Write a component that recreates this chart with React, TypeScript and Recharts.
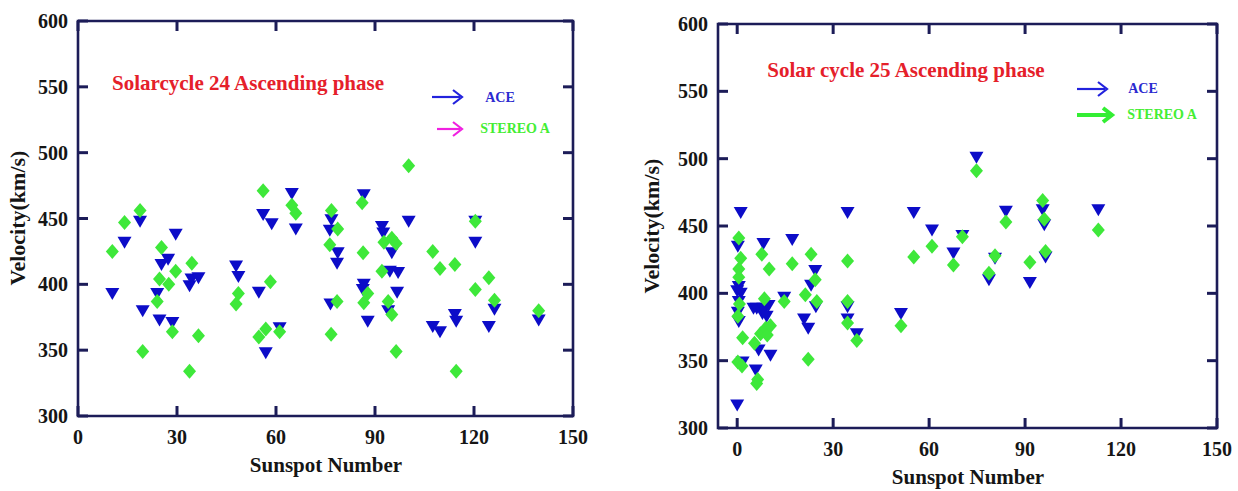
import React from "react";
import { ScatterChart, Scatter, XAxis, YAxis, ReferenceArea } from "recharts";

const sunspotTicks = [0, 30, 60, 90, 120, 150];
const velocityTicks = [300, 350, 400, 450, 500, 550, 600];

// [sunspot number, velocity km/s]
const c24Ace = [
  [10.4, 393], [14.1, 432], [18.8, 448], [19.6, 380], [24, 393], [25.3, 415],
  [27.3, 419], [24.7, 373], [28.6, 371], [29.6, 438], [33.8, 399], [34.4, 404],
  [36.5, 405], [47.9, 414], [48.6, 406], [54.8, 394], [56.1, 453], [58.7, 446],
  [56.9, 348], [61.1, 367], [64.8, 469], [66, 442], [76.8, 449], [76.3, 441],
  [78.7, 424], [78.5, 416], [76.5, 385], [86.6, 468], [86.3, 396], [86.6, 400],
  [87.8, 372], [100.2, 448], [92.1, 444], [92.5, 439], [95.1, 424], [94.5, 410],
  [97, 409], [96.7, 394], [94, 380], [107.5, 368], [109.7, 364], [114.2, 377],
  [114.6, 372], [120.4, 432], [120.4, 448], [124.5, 368], [126.2, 381], [139.6, 373],
];

const c24Stereo = [
  [10.4, 425], [14.1, 447], [18.8, 456], [19.6, 349], [25.3, 428], [24.7, 404],
  [24, 387], [27.5, 400], [29.6, 410], [28.6, 364], [34.5, 416], [33.8, 334],
  [36.5, 361], [47.9, 385], [48.6, 393], [56.1, 471], [58.3, 402], [54.8, 360],
  [56.9, 366], [61.1, 364], [64.8, 460], [66, 454], [76.8, 456], [76.3, 430],
  [78.7, 442], [78.5, 387], [76.7, 362], [86.1, 462], [86.4, 424], [86.6, 386],
  [87.8, 393], [100.2, 490], [92.1, 410], [92.7, 432], [95.1, 435], [96.4, 431],
  [94, 387], [95.1, 377], [96.4, 349], [107.5, 425], [109.7, 412], [114.2, 415],
  [114.6, 334], [120.4, 448], [120.4, 396], [124.5, 405], [126.2, 388], [139.6, 380],
];

const c25Ace = [
  [1.1, 460], [0.2, 435], [0, 402], [0.5, 405], [1.1, 400], [0.5, 394],
  [0.2, 386], [0.5, 379], [0, 317], [1.7, 349], [5.1, 389], [6.1, 389],
  [6.7, 358], [5.8, 343], [8.2, 437], [7.9, 385], [8.2, 389], [9.2, 383],
  [9.8, 391], [10.4, 354], [14.7, 397], [17.2, 440], [20.9, 381], [22.2, 374],
  [23.1, 406], [24.4, 417], [24.6, 390], [34.5, 460], [34.5, 381], [34.5, 390],
  [37.4, 370], [51.2, 385], [55.2, 460], [60.9, 447], [67.6, 430], [70.4, 443],
  [74.8, 501], [78.7, 410], [80.6, 426], [84, 461], [91.5, 408], [95.5, 462],
  [96, 451], [96.4, 427], [112.9, 462],
];

const c25Stereo = [
  [0.5, 441], [1.1, 426], [0.5, 418], [0.5, 412], [0.7, 392], [0.2, 383],
  [1.7, 367], [0.2, 349], [1.5, 346], [5.4, 363], [6.4, 336], [6.1, 333],
  [7.3, 370], [7.7, 429], [8.5, 396], [8.9, 374], [9.4, 369], [10.4, 376],
  [10, 418], [14.7, 394], [17.2, 422], [21.3, 399], [22.2, 351], [23.1, 429],
  [24.4, 410], [24.9, 394], [34.5, 424], [34.5, 394], [34.5, 378], [37.4, 365],
  [51.2, 376], [55.2, 427], [60.9, 435], [67.6, 421], [70.4, 442], [74.8, 491],
  [78.7, 415], [80.6, 428], [84, 453], [91.5, 423], [95.5, 469], [96, 455],
  [96.4, 431], [112.9, 447],
];

const BLUE = "#0c0cc8";
const GREEN = "#3ee83a";
const FRAME = "#1c1c58";
const FONT = "'Liberation Serif', 'Times New Roman', serif";

const toPoints = (arr: number[][]) => arr.map(([x, y]) => ({ x, y }));

const Tri = (p: any) => {
  const { cx, cy } = p;
  return (
    <polygon
      points={`${cx - 7},${cy - 5.5} ${cx + 7},${cy - 5.5} ${cx},${cy + 6.5}`}
      fill={BLUE}
    />
  );
};

const Diamond = (p: any) => {
  const { cx, cy } = p;
  return (
    <polygon
      points={`${cx},${cy - 7.5} ${cx + 6.5},${cy} ${cx},${cy + 7.5} ${cx - 6.5},${cy}`}
      fill={GREEN}
    />
  );
};

const tickText = { fontFamily: FONT, fontWeight: 700, fontSize: 20, fill: "#151515" };

const BottomTick = (p: any) => (
  <text x={p.x} y={p.y + 21} textAnchor="middle" dominantBaseline="central" {...tickText}>
    {p.payload.value}
  </text>
);

const LeftTick = (p: any) => (
  <text x={p.x - 10} y={p.y} textAnchor="end" dominantBaseline="central" {...tickText}>
    {p.payload.value}
  </text>
);

function Panel(props: {
  left: number;
  width: number;
  plotLeft: number;
  plotRight: number;
  plotTop: number;
  plotBottom: number;
  xMin: number;
  ace: number[][];
  stereo: number[][];
}) {
  const { left, width, plotLeft, plotRight, plotTop, plotBottom, xMin } = props;
  // pixel position of a tick value on the plot frame (for the inward tick marks)
  const px = (t: number) => plotLeft + ((t - xMin) / (150 - xMin)) * (plotRight - plotLeft);
  const py = (v: number) => plotBottom - ((v - 300) / 300) * (plotBottom - plotTop);
  const len = 10;
  return (
    <div style={{ position: "absolute", left, top: 0, width, height: 491 }}>
      <ScatterChart
        width={width}
        height={491}
        margin={{ top: plotTop, right: width - plotRight, bottom: 0, left: 0 }}
      >
        <XAxis
          xAxisId="b"
          type="number"
          dataKey="x"
          domain={[xMin, 150]}
          ticks={sunspotTicks}
          allowDataOverflow
          height={491 - plotBottom}
          tickSize={0}
          tickMargin={0}
          tickLine={false}
          axisLine={false}
          tick={BottomTick}
          interval={0}
        />
        <YAxis
          yAxisId="l"
          type="number"
          dataKey="y"
          domain={[300, 600]}
          ticks={velocityTicks}
          allowDataOverflow
          width={plotLeft}
          tickSize={0}
          tickMargin={0}
          tickLine={false}
          axisLine={false}
          tick={LeftTick}
          interval={0}
        />
        <ReferenceArea
          xAxisId="b"
          yAxisId="l"
          x1={xMin}
          x2={150}
          y1={300}
          y2={600}
          fill="none"
          fillOpacity={0}
          stroke={FRAME}
          strokeWidth={2.6}
          strokeOpacity={1}
          ifOverflow="visible"
        />
        <Scatter
          xAxisId="b"
          yAxisId="l"
          data={toPoints(props.ace)}
          shape={Tri}
          isAnimationActive={false}
        />
        <Scatter
          xAxisId="b"
          yAxisId="l"
          data={toPoints(props.stereo)}
          shape={Diamond}
          isAnimationActive={false}
        />
      </ScatterChart>
      <svg
        width={width}
        height={491}
        style={{ position: "absolute", left: 0, top: 0, pointerEvents: "none" }}
      >
        {sunspotTicks.map((t) => (
          <g key={`x${t}`}>
            <line x1={px(t)} x2={px(t)} y1={plotBottom} y2={plotBottom - len} stroke={FRAME} strokeWidth={3} />
            <line x1={px(t)} x2={px(t)} y1={plotTop} y2={plotTop + len} stroke={FRAME} strokeWidth={3} />
          </g>
        ))}
        {velocityTicks.map((v) => (
          <g key={`y${v}`}>
            <line x1={plotLeft} x2={plotLeft + len} y1={py(v)} y2={py(v)} stroke={FRAME} strokeWidth={3} />
            <line x1={plotRight} x2={plotRight - len} y1={py(v)} y2={py(v)} stroke={FRAME} strokeWidth={3} />
          </g>
        ))}
      </svg>
    </div>
  );
}

const Txt = (p: {
  x: number;
  y: number;
  w: number;
  size: number;
  color: string;
  children: React.ReactNode;
  rotate?: boolean;
}) => (
  <div
    style={{
      position: "absolute",
      left: p.x - p.w / 2,
      top: p.y - 15,
      width: p.w,
      height: 30,
      lineHeight: "30px",
      textAlign: "center",
      fontFamily: FONT,
      fontWeight: 700,
      fontSize: p.size,
      color: p.color,
      whiteSpace: "nowrap",
      transform: p.rotate ? "rotate(-90deg)" : undefined,
    }}
  >
    {p.children}
  </div>
);

const Arrow = (p: { x1: number; x2: number; y: number; color: string; thick?: boolean }) => {
  const sw = p.thick ? 4 : 2.2;
  return (
    <svg
      style={{ position: "absolute", left: 0, top: 0, overflow: "visible" }}
      width={1}
      height={1}
    >
      <line x1={p.x1} x2={p.x2 - 2} y1={p.y} y2={p.y} stroke={p.color} strokeWidth={sw} />
      <polyline
        points={`${p.x2 - 9},${p.y - 7} ${p.x2},${p.y} ${p.x2 - 9},${p.y + 7}`}
        fill="none"
        stroke={p.color}
        strokeWidth={sw}
      />
    </svg>
  );
};

export default function App() {
  return (
    <div
      style={{
        position: "absolute",
        left: 0,
        top: 0,
        width: 1238,
        height: 491,
        background: "#fff",
        overflow: "hidden",
      }}
    >
      <Panel
        left={0}
        width={620}
        plotLeft={78}
        plotRight={573}
        plotTop={21}
        plotBottom={416}
        xMin={0}
        ace={c24Ace}
        stereo={c24Stereo}
      />
      <Panel
        left={620}
        width={618}
        plotLeft={98}
        plotRight={597}
        plotTop={24}
        plotBottom={428}
        xMin={-6}
        ace={c25Ace}
        stereo={c25Stereo}
      />

      <Txt x={248} y={83} w={340} size={21} color="#e5202a">
        Solarcycle 24 Ascending phase
      </Txt>
      <Txt x={906} y={70} w={340} size={21} color="#e5202a">
        Solar cycle 25 Ascending phase
      </Txt>

      <Txt x={326} y={465} w={240} size={21} color="#151515">
        Sunspot Number
      </Txt>
      <Txt x={968} y={477} w={240} size={21} color="#151515">
        Sunspot Number
      </Txt>
      <Txt x={18} y={218} w={200} size={22} color="#151515" rotate>
        Velocity(km/s)
      </Txt>
      <Txt x={652} y={226} w={200} size={22} color="#151515" rotate>
        Velocity(km/s)
      </Txt>

      <Arrow x1={432} x2={462} y={97} color="#2222dd" />
      <Txt x={500} y={98} w={80} size={14} color="#2a2ad0">
        ACE
      </Txt>
      <Arrow x1={437} x2={462} y={129} color="#f020e0" />
      <Txt x={515} y={129} w={100} size={14} color="#44ee33">
        STEREO A
      </Txt>

      <Arrow x1={1077} x2={1107} y={89} color="#2222dd" />
      <Txt x={1143} y={89} w={80} size={14} color="#2a2ad0">
        ACE
      </Txt>
      <Arrow x1={1077} x2={1112} y={115} color="#33ee33" thick />
      <Txt x={1162} y={115} w={100} size={14} color="#44ee33">
        STEREO A
      </Txt>
    </div>
  );
}
